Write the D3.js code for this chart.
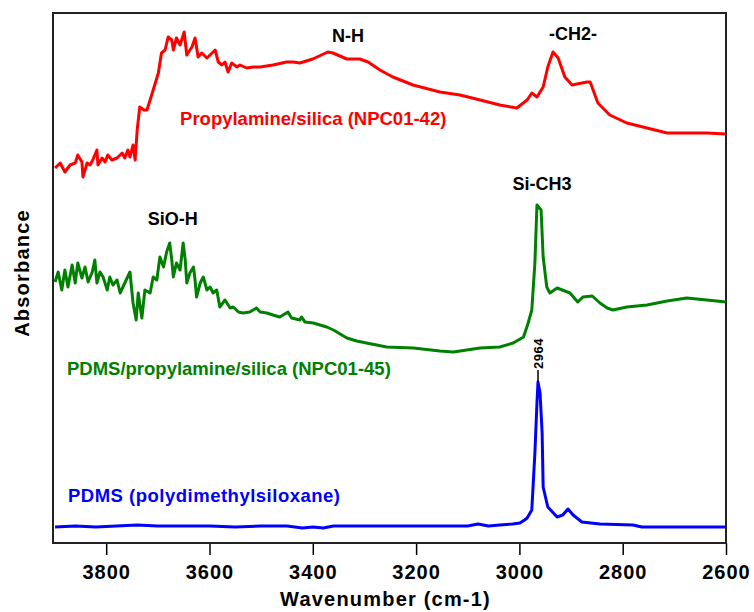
<!DOCTYPE html>
<html>
<head>
<meta charset="utf-8">
<script src="https://cdn.jsdelivr.net/npm/d3@7"></script>
<style>
  body { margin: 0; background: #fff; }
  text { font-family: Arial, "Liberation Sans", sans-serif; font-weight: bold; }
  .axis path { display: none; }
  .axis line { stroke: #000; stroke-width: 1.5; }
  .axis text { font-size: 20px; letter-spacing: 1px; fill: #000; }
</style>
</head>
<body>
<div id="ftir"></div>
<script>
// x axis ticks (wavenumber, cm-1)
const xTicks = [3800, 3600, 3400, 3200, 3000, 2800, 2600];

// spectra: [wavenumber, absorbance (a.u., offset)]
const propylamineSilica = [
  [3899, 3.75], [3889, 3.80], [3880, 3.71], [3870, 3.78], [3860, 3.80], [3855, 3.88],
  [3847, 3.81], [3845, 3.66], [3837, 3.80], [3831, 3.78], [3826, 3.83], [3818, 3.93],
  [3816, 3.78], [3808, 3.85], [3802, 3.81], [3797, 3.88], [3789, 3.83], [3779, 3.85],
  [3769, 3.90], [3764, 3.85], [3758, 3.93], [3754, 3.86], [3748, 3.98], [3744, 3.83],
  [3740, 4.13], [3735, 4.36], [3727, 4.33], [3721, 4.33], [3709, 4.53], [3699, 4.70],
  [3693, 4.90], [3686, 4.93], [3680, 5.06], [3673, 5.03], [3670, 4.93], [3664, 5.05],
  [3657, 4.98], [3649, 5.11], [3644, 4.88], [3634, 4.96], [3628, 5.05], [3622, 4.86],
  [3615, 4.90], [3605, 4.85], [3599, 4.88], [3589, 4.93], [3583, 4.81], [3576, 4.78],
  [3570, 4.81], [3564, 4.71], [3557, 4.80], [3547, 4.76], [3541, 4.78], [3528, 4.75],
  [3515, 4.76], [3502, 4.76], [3477, 4.78], [3451, 4.81], [3438, 4.81], [3425, 4.80],
  [3400, 4.84], [3371, 4.91], [3361, 4.90], [3334, 4.84], [3309, 4.84], [3293, 4.81],
  [3270, 4.73], [3245, 4.66], [3206, 4.58], [3154, 4.51], [3115, 4.48], [3076, 4.43],
  [3038, 4.38], [3005, 4.35], [2985, 4.43], [2976, 4.50], [2966, 4.46], [2954, 4.56],
  [2945, 4.76], [2935, 4.91], [2925, 4.85], [2912, 4.66], [2898, 4.58], [2869, 4.61],
  [2863, 4.61], [2848, 4.40], [2825, 4.28], [2792, 4.20], [2753, 4.15], [2714, 4.10],
  [2676, 4.10], [2637, 4.10], [2600, 4.09]
];

const pdmsPropylamineSilica = [
  [3899, 2.61], [3893, 2.71], [3886, 2.53], [3880, 2.73], [3874, 2.56], [3866, 2.78],
  [3860, 2.60], [3855, 2.80], [3847, 2.65], [3841, 2.76], [3835, 2.61], [3827, 2.71],
  [3822, 2.83], [3818, 2.60], [3812, 2.71], [3806, 2.66], [3798, 2.53], [3793, 2.66],
  [3787, 2.58], [3779, 2.63], [3773, 2.50], [3764, 2.60], [3754, 2.71], [3748, 2.40],
  [3742, 2.23], [3738, 2.50], [3731, 2.25], [3725, 2.53], [3715, 2.50], [3709, 2.66],
  [3702, 2.63], [3696, 2.86], [3689, 2.76], [3683, 2.91], [3677, 3.00], [3673, 2.83],
  [3670, 2.66], [3664, 2.80], [3657, 2.73], [3651, 3.00], [3647, 2.83], [3644, 2.60],
  [3638, 2.70], [3631, 2.76], [3628, 2.63], [3625, 2.46], [3618, 2.60], [3612, 2.66],
  [3605, 2.53], [3599, 2.56], [3593, 2.50], [3586, 2.53], [3580, 2.36], [3570, 2.43],
  [3560, 2.35], [3554, 2.36], [3544, 2.31], [3535, 2.30], [3522, 2.31], [3509, 2.35],
  [3502, 2.31], [3489, 2.30], [3477, 2.28], [3464, 2.26], [3448, 2.31], [3441, 2.25],
  [3425, 2.23], [3422, 2.26], [3415, 2.21], [3399, 2.20], [3373, 2.16], [3360, 2.13],
  [3334, 2.05], [3315, 2.02], [3296, 2.00], [3257, 1.96], [3205, 1.95], [3154, 1.92],
  [3128, 1.91], [3076, 1.95], [3038, 1.96], [3012, 2.00], [2992, 2.06], [2983, 2.20],
  [2976, 2.33], [2970, 2.80], [2966, 3.38], [2958, 3.33], [2954, 2.86], [2947, 2.56],
  [2941, 2.50], [2927, 2.55], [2902, 2.50], [2887, 2.41], [2877, 2.46], [2859, 2.47],
  [2844, 2.40], [2830, 2.35], [2819, 2.33], [2792, 2.36], [2753, 2.38], [2714, 2.42],
  [2676, 2.45], [2637, 2.43], [2600, 2.41]
];

const pdms = [
  [3899, 0.16], [3860, 0.17], [3820, 0.16], [3780, 0.17], [3740, 0.18], [3700, 0.17],
  [3650, 0.17], [3600, 0.17], [3550, 0.16], [3500, 0.17], [3450, 0.17], [3420, 0.15],
  [3400, 0.16], [3380, 0.15], [3360, 0.17], [3300, 0.17], [3200, 0.17], [3100, 0.17],
  [3080, 0.19], [3060, 0.17], [3038, 0.18], [3013, 0.19], [2999, 0.20], [2990, 0.23],
  [2985, 0.25], [2976, 0.33], [2970, 0.90], [2966, 1.40], [2964, 1.61], [2960, 1.50],
  [2956, 1.10], [2954, 0.56], [2945, 0.36], [2927, 0.26], [2916, 0.28], [2906, 0.34],
  [2896, 0.28], [2879, 0.21], [2844, 0.19], [2780, 0.18], [2763, 0.16], [2600, 0.16]
];

// series names and band labels
const seriesNames = ['Propylamine/silica (NPC01-42)', 'PDMS/propylamine/silica (NPC01-45)', 'PDMS (polydimethylsiloxane)'];
const seriesColors = ['#ff0000', '#008000', '#0000ff'];
const bandLabels = [
  { text: 'N-H', wn: 3332, y: 5.01 },
  { text: '-CH2-', wn: 2896, y: 5.03 },
  { text: 'SiO-H', wn: 3671, y: 3.18 },
  { text: 'Si-CH3', wn: 2956, y: 3.53 }
];

const svgWidth = 754;
const svgHeight = 612;
const margin = { top: 13, right: 28, bottom: 69, left: 53 };
const plotW = svgWidth - margin.left - margin.right;
const plotH = svgHeight - margin.top - margin.bottom;

const svg = d3.select('#ftir')
  .append('svg')
  .attr('width', svgWidth)
  .attr('height', svgHeight);

const g = svg.append('g')
  .attr('transform', `translate(${margin.left}, ${margin.top})`);

// reversed wavenumber axis
const x = d3.scaleLinear().domain([3903, 2600]).range([0, plotW]);
const y = d3.scaleLinear().domain([0, 5.30]).range([plotH, 0]);

g.append('g')
  .attr('class', 'axis')
  .attr('transform', `translate(0, ${plotH})`)
  .call(d3.axisBottom(x).tickValues(xTicks).tickSize(12).tickPadding(10).tickFormat(d3.format('d')));

// frame
g.append('rect')
  .attr('width', plotW)
  .attr('height', plotH)
  .attr('fill', 'none')
  .attr('stroke', '#222')
  .attr('stroke-width', 2);

const line = d3.line()
  .x(d => x(d[0]))
  .y(d => y(d[1]));

[propylamineSilica, pdmsPropylamineSilica, pdms].forEach((s, i) => {
  g.append('path')
    .attr('d', line(s))
    .attr('fill', 'none')
    .attr('stroke', seriesColors[i])
    .attr('stroke-width', 3)
    .attr('stroke-linejoin', 'round');
});

// series names
const namePos = [[3657, 4.18], [3876, 1.68], [3874, 0.41]];
seriesNames.forEach((name, i) => {
  g.append('text')
    .attr('x', x(namePos[i][0]))
    .attr('y', y(namePos[i][1]))
    .attr('fill', seriesColors[i])
    .attr('font-size', 18.5)
    .attr('letter-spacing', i === 2 ? 0.5 : 0)
    .text(name);
});

// band labels
bandLabels.forEach(b => {
  g.append('text')
    .attr('x', x(b.wn))
    .attr('y', y(b.y))
    .attr('text-anchor', 'middle')
    .attr('font-size', 18)
    .text(b.text);
});

// peak marker for 2964
const peakTop = y(1.61);
g.append('line')
  .attr('x1', x(2964)).attr('x2', x(2964))
  .attr('y1', peakTop - 12).attr('y2', peakTop)
  .attr('stroke', '#000')
  .attr('stroke-width', 1.5);
g.append('text')
  .attr('transform', `translate(${x(2964) + 5}, ${peakTop - 13}) rotate(-90)`)
  .attr('font-size', 13)
  .attr('letter-spacing', 0.5)
  .text('2964');

// axis titles
svg.append('text')
  .attr('x', margin.left + plotW / 2 - 4)
  .attr('y', 606)
  .attr('text-anchor', 'middle')
  .attr('font-size', 20)
  .attr('letter-spacing', 1.2)
  .text('Wavenumber (cm-1)');

svg.append('text')
  .attr('transform', `translate(29, ${margin.top + 260}) rotate(-90)`)
  .attr('text-anchor', 'middle')
  .attr('font-size', 20)
  .attr('letter-spacing', 1.2)
  .text('Absorbance');
</script>
</body>
</html>
